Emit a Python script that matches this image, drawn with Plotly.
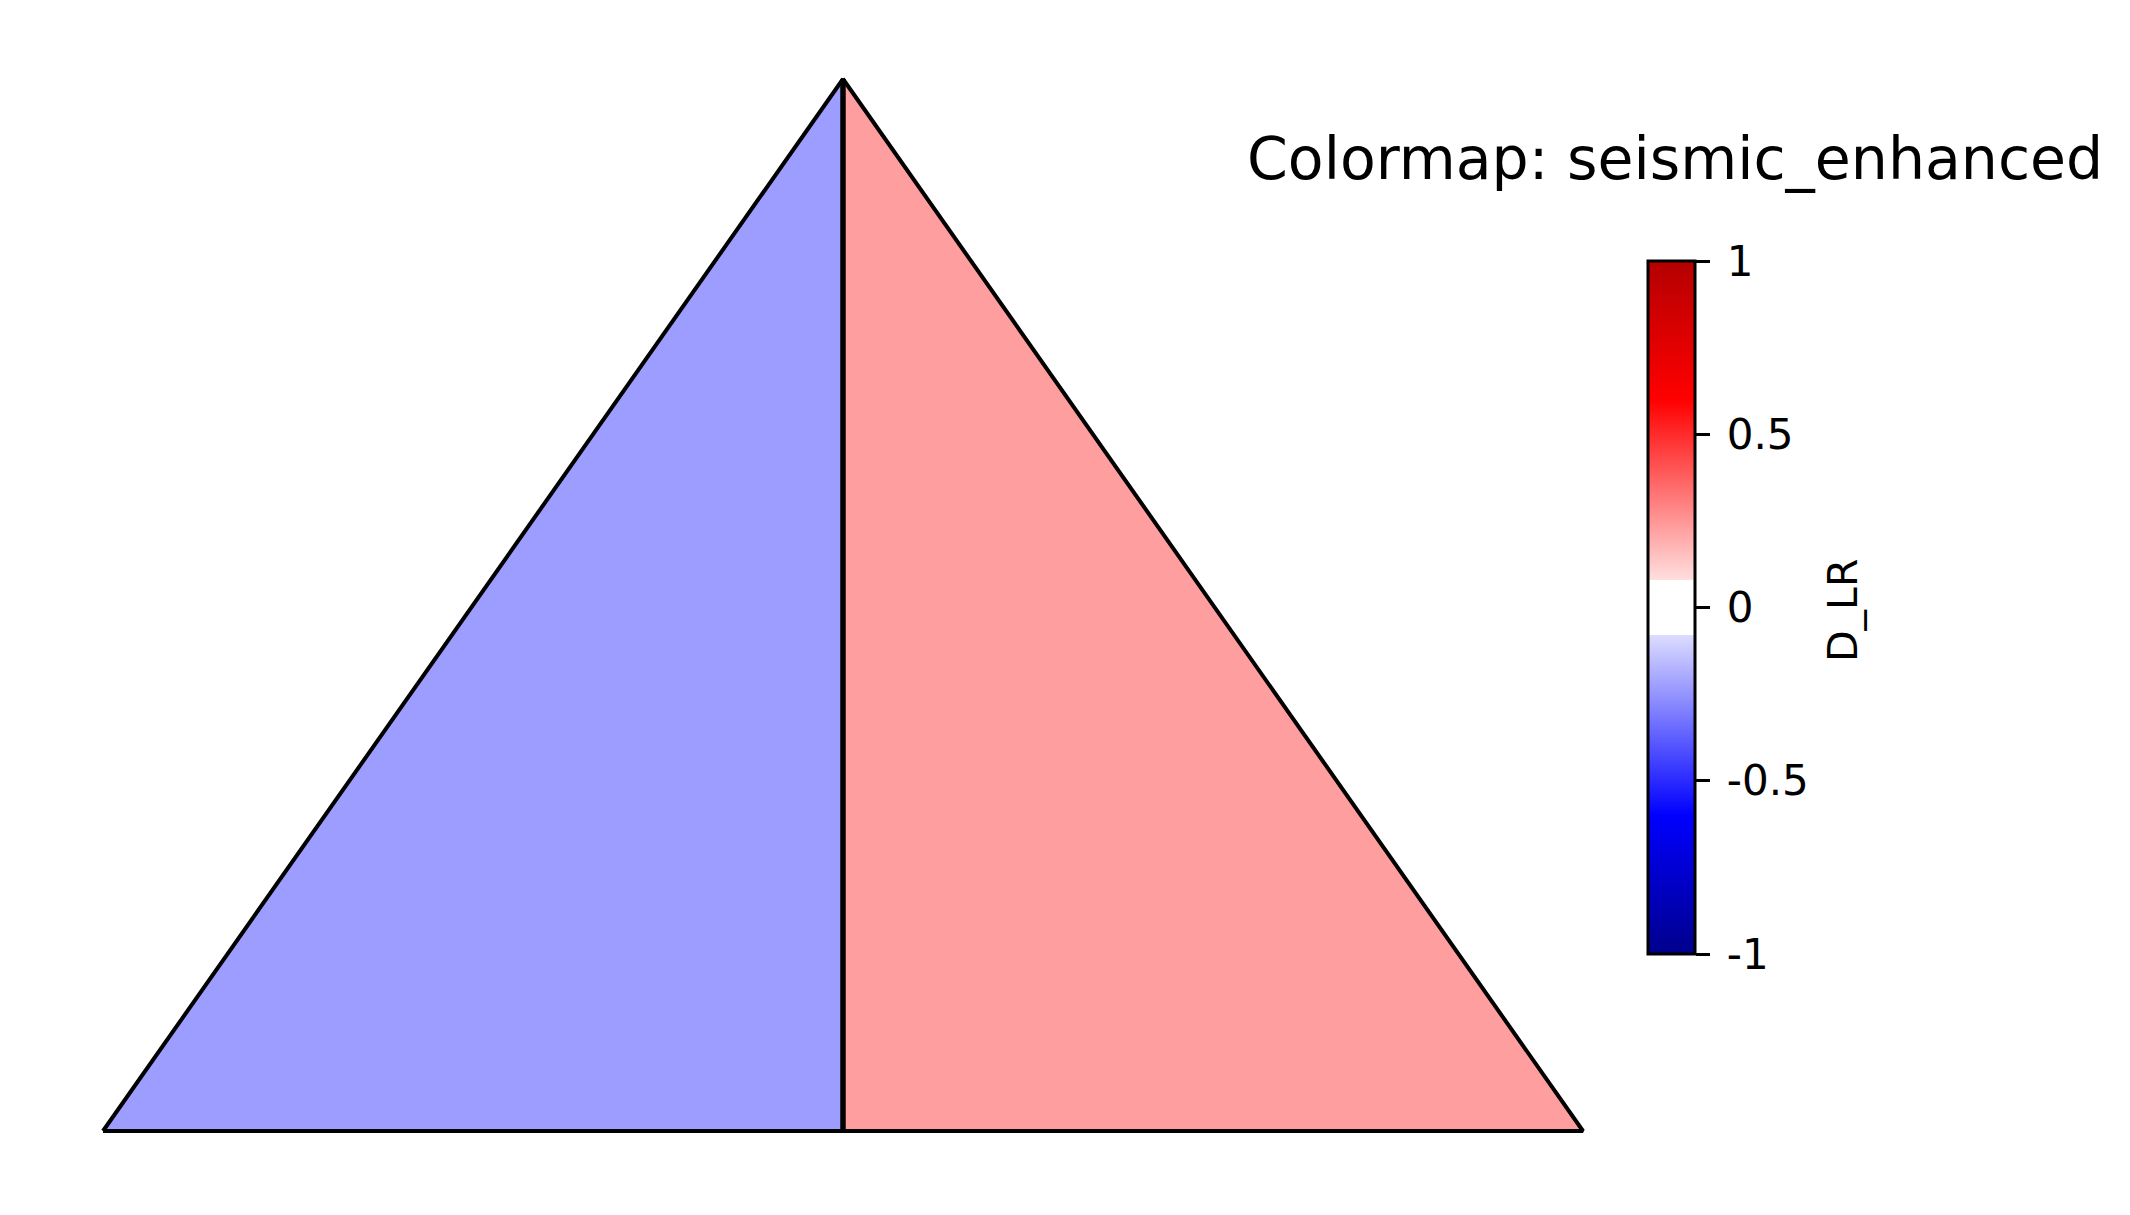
import plotly.graph_objects as go
from plotly.colors import sample_colorscale

# ---- data ----
regions = ["left", "right"]
d_lr_values = [-0.23, 0.23]
# triangle vertices (simplex coords): bottom-left, bottom-mid, apex, bottom-right
tri_x = {"left": [0.0, 0.5, 0.5, 0.0], "right": [0.5, 1.0, 0.5, 0.5]}
tri_y = {"left": [0.0, 0.0, 1.0, 0.0], "right": [0.0, 0.0, 1.0, 0.0]}
cbar_tickvals = [-1, -0.5, 0, 0.5, 1]
cbar_ticktext = ["-1", "-0.5", "0", "0.5", "1"]
title_text = "Colormap: seismic_enhanced"
cbar_title = "D_LR"

W, H = 2130, 1215
OFF = 8  # page body margin
vmin, vmax = -1.0, 1.0

def nrm(v):
    return (v - vmin) / (vmax - vmin)

colorscale = [
    [nrm(-1.0), "rgb(0,0,140)"],
    [nrm(-0.6), "rgb(0,0,255)"],
    [nrm(-0.08), "rgb(220,220,255)"],
    [nrm(-0.079), "rgb(255,255,255)"],
    [nrm(0.079), "rgb(255,255,255)"],
    [nrm(0.08), "rgb(255,222,222)"],
    [nrm(0.6), "rgb(255,0,0)"],
    [nrm(1.0), "rgb(180,0,0)"],
]

fig = go.Figure()

for name, val in zip(regions, d_lr_values):
    col = sample_colorscale(colorscale, [nrm(val)])[0]
    fig.add_trace(go.Scatter(
        x=tri_x[name], y=tri_y[name], mode="lines", fill="toself",
        fillcolor=col, line=dict(color="black", width=4),
        hoverinfo="skip", showlegend=False,
    ))

# shared edge (apex to bottom midpoint), slightly heavier as in the reference
fig.add_trace(go.Scatter(
    x=[tri_x["left"][1], tri_x["left"][2]], y=[tri_y["left"][1], tri_y["left"][2]],
    mode="lines", line=dict(color="black", width=5.5), hoverinfo="skip", showlegend=False,
))

# colorbar carrier
fig.add_trace(go.Scatter(
    x=[0.5, 0.5], y=[0.3, 0.3], mode="markers",
    marker=dict(
        size=1, opacity=0, color=[vmin, vmax], cmin=vmin, cmax=vmax,
        colorscale=colorscale, showscale=True,
        colorbar=dict(
            x=(1648 - OFF) / W, xanchor="left", xpad=0, ypad=0,
            y=1 - (607.5 - OFF) / H, yanchor="middle",
            len=693, lenmode="pixels", thickness=47, thicknessmode="pixels",
            outlinecolor="black", outlinewidth=3,
            tickmode="array", tickvals=cbar_tickvals,
            ticktext=["\u2009" + t for t in cbar_ticktext],
            ticks="outside", ticklen=14, tickwidth=3, tickcolor="black",
            tickfont=dict(family="DejaVu Sans", size=42, color="black"),
            bgcolor="rgba(0,0,0,0)",
        ),
    ),
    hoverinfo="skip", showlegend=False,
))

# axis ranges map simplex coords onto the reference's pixel layout
x0 = -(103 - OFF) / 1480
x1 = x0 + W / 1480
y0 = -(H - (1131 - OFF)) / 1052
y1 = 1 + (79 - OFF) / 1052

fig.update_xaxes(range=[x0, x1], visible=False, domain=[0, 1], fixedrange=True)
fig.update_yaxes(range=[y0, y1], visible=False, domain=[0, 1], fixedrange=True)

fig.add_annotation(
    text=title_text, xref="paper", yref="paper",
    x=(1245 - OFF) / W, y=1 - (159 - OFF) / H, xanchor="left", yanchor="middle",
    showarrow=False, font=dict(family="DejaVu Sans", size=58.5, color="black"),
)

fig.add_annotation(
    text=cbar_title, xref="paper", yref="paper", textangle=-90,
    x=(1843 - OFF) / W, y=1 - (611 - OFF) / H, xanchor="center", yanchor="middle",
    showarrow=False, font=dict(family="DejaVu Sans", size=41, color="black"),
)

fig.update_layout(
    width=W, height=H, margin=dict(l=0, r=0, t=0, b=0),
    paper_bgcolor="white", plot_bgcolor="white",
)

fig.write_html("out.html")
